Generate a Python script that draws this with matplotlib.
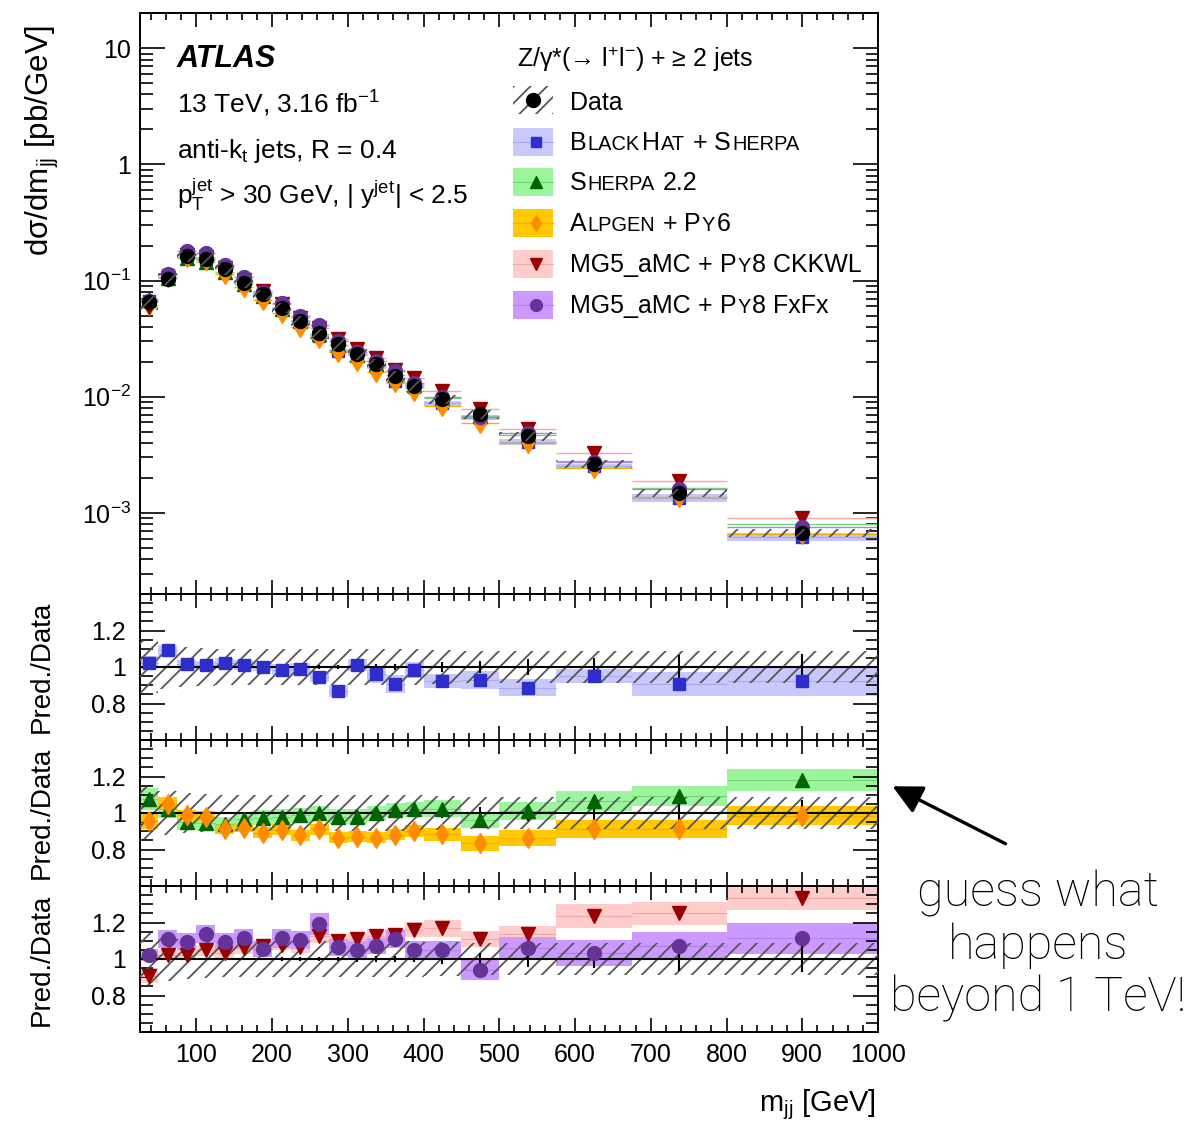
import matplotlib
matplotlib.use("Agg")
import matplotlib.pyplot as plt
import numpy as np
from matplotlib.lines import Line2D
from matplotlib.patches import Rectangle, FancyArrowPatch
from matplotlib.ticker import FixedLocator, MultipleLocator, LogLocator, NullFormatter, FuncFormatter

plt.rcParams["font.family"] = ["Liberation Sans", "DejaVu Sans"]
plt.rcParams["mathtext.fontset"] = "custom"
plt.rcParams["mathtext.rm"] = "Liberation Sans"
plt.rcParams["mathtext.it"] = "Liberation Sans:italic"
plt.rcParams["mathtext.bf"] = "Liberation Sans:bold"
plt.rcParams["hatch.linewidth"] = 1.3
plt.rcParams["axes.linewidth"] = 1.4

# m_jj binning [GeV]
bin_edges = np.array([25, 50, 75, 100, 125, 150, 175, 200, 225, 250, 275, 300, 325,
                      350, 375, 400, 450, 500, 575, 675, 800, 1000])

# measured cross section [pb/GeV] and relative uncertainties
data_xsec = [0.065, 0.103, 0.163, 0.153, 0.125, 0.096, 0.076, 0.058, 0.045, 0.035, 0.0283,
             0.0232, 0.019, 0.0151, 0.0124, 0.0095, 0.0071, 0.0046, 0.00264, 0.00149, 0.000673]
data_syst = [0.14, 0.12, 0.11, 0.105, 0.10, 0.10, 0.10, 0.10, 0.10, 0.10, 0.10,
             0.10, 0.10, 0.10, 0.10, 0.095, 0.09, 0.09, 0.085, 0.085, 0.085]
data_stat = [0.006, 0.005, 0.005, 0.005, 0.006, 0.007, 0.008, 0.009, 0.010, 0.011, 0.012,
             0.014, 0.015, 0.017, 0.019, 0.025, 0.035, 0.045, 0.05, 0.065, 0.07]

# predictions / data, with half-width of the theory band
blackhat_ratio = [1.024, 1.093, 1.015, 1.009, 1.024, 1.011, 1.002, 0.984, 0.991, 0.947, 0.868,
                  1.011, 0.960, 0.905, 0.984, 0.923, 0.929, 0.887, 0.951, 0.905, 0.923]
blackhat_err = [0.035, 0.03, 0.025, 0.025, 0.025, 0.025, 0.025, 0.03, 0.03, 0.03, 0.035,
                0.035, 0.045, 0.05, 0.045, 0.04, 0.05, 0.045, 0.04, 0.065, 0.08]
sherpa_ratio = [1.075, 1.020, 0.950, 0.945, 0.940, 0.965, 0.975, 0.980, 0.987, 0.998, 0.980,
                0.980, 0.998, 1.016, 1.020, 1.024, 0.962, 1.011, 1.066, 1.093, 1.180]
sherpa_err = [0.06, 0.045, 0.045, 0.045, 0.04, 0.04, 0.04, 0.04, 0.04, 0.04, 0.04,
              0.04, 0.04, 0.04, 0.04, 0.045, 0.045, 0.048, 0.055, 0.055, 0.06]
alpgen_ratio = [0.955, 1.050, 0.987, 0.980, 0.911, 0.920, 0.892, 0.907, 0.878, 0.910, 0.865,
                0.870, 0.865, 0.880, 0.901, 0.883, 0.834, 0.865, 0.914, 0.914, 0.984]
alpgen_err = [0.04, 0.035, 0.03, 0.03, 0.025, 0.025, 0.03, 0.03, 0.03, 0.03, 0.03,
              0.03, 0.03, 0.03, 0.035, 0.035, 0.04, 0.044, 0.05, 0.05, 0.052]
ckkwl_ratio = [0.909, 1.022, 1.022, 1.049, 1.033, 1.060, 1.073, 1.077, 1.064, 1.124, 1.100,
               1.110, 1.128, 1.131, 1.161, 1.168, 1.110, 1.137, 1.235, 1.250, 1.335]
ckkwl_err = [0.04, 0.03, 0.03, 0.03, 0.03, 0.03, 0.03, 0.03, 0.03, 0.035, 0.035,
             0.035, 0.035, 0.035, 0.04, 0.045, 0.045, 0.043, 0.064, 0.062, 0.064]
fxfx_ratio = [1.022, 1.110, 1.095, 1.137, 1.095, 1.113, 1.055, 1.113, 1.106, 1.192, 1.064,
              1.051, 1.070, 1.110, 1.051, 1.051, 0.941, 1.059, 1.033, 1.073, 1.113]
fxfx_err = [0.035, 0.05, 0.045, 0.05, 0.045, 0.05, 0.045, 0.05, 0.05, 0.06, 0.045,
            0.045, 0.045, 0.05, 0.05, 0.05, 0.055, 0.06, 0.07, 0.073, 0.087]

ratio_ticks = [0.8, 1.0, 1.2]
main_ticks = [1e-3, 1e-2, 1e-1, 1, 10]

# name pieces (text, scale) give the small-caps generator names
predictions = [
    dict(label=[("B", 1), ("LACK", 0.8), (None, 0.05), ("H", 1), ("AT", 0.8), (None, 0.25), ("+", 1),
                (None, 0.25), ("S", 1), ("HERPA", 0.8)],
         ratio=blackhat_ratio, err=blackhat_err, marker="s", ms=8.5,
         color="#2e2ecc", band="#c8c8fb", line="#a8a8f0", panel=1),
    dict(label=[("S", 1), ("HERPA", 0.8), (None, 0.28), ("2.2", 1)],
         ratio=sherpa_ratio, err=sherpa_err, marker="^", ms=10.5,
         color="#006400", band="#9cf59c", line="#70d870", panel=2),
    dict(label=[("A", 1), ("LPGEN", 0.8), (None, 0.25), ("+", 1), (None, 0.25), ("P", 1), ("Y", 0.8), ("6", 1)],
         ratio=alpgen_ratio, err=alpgen_err, marker="d", ms=10,
         color="#ff8c00", band="#ffc800", line="#f0b000", panel=2),
    dict(label=[("MG5_aMC", 1), (None, 0.25), ("+", 1), (None, 0.25), ("P", 1), ("Y", 0.8),
                ("8 CKKWL", 1)],
         ratio=ckkwl_ratio, err=ckkwl_err, marker="v", ms=10.5,
         color="#990000", band="#ffcccc", line="#f0a8a8", panel=3),
    dict(label=[("MG5_aMC", 1), (None, 0.25), ("+", 1), (None, 0.25), ("P", 1), ("Y", 0.8),
                ("8 FxFx", 1)],
         ratio=fxfx_ratio, err=fxfx_err, marker="o", ms=10,
         color="#663399", band="#cc99ff", line="#b080f0", panel=3),
]

centers = 0.5 * (bin_edges[:-1] + bin_edges[1:])
widths = np.diff(bin_edges)
lo_edges, hi_edges = bin_edges[:-1], bin_edges[1:]
data = np.array(data_xsec)
syst = np.array(data_syst)

W, H = 1195, 1127
fig = plt.figure(figsize=(W / 100, H / 100), dpi=100)
left, right = 139.5, 878.0


def axes_box(top, bottom):
    return [left / W, 1 - bottom / H, (right - left) / W, (bottom - top) / H]


def fig_xy(x, y):
    return x / W, 1 - y / H


ax_main = fig.add_axes(axes_box(13.3, 594))
ratio_axes = [fig.add_axes(axes_box(594, 740)),
              fig.add_axes(axes_box(740, 886)),
              fig.add_axes(axes_box(886, 1032))]

# main panel: prediction lines and the BlackHat band, then markers and data
for pred in predictions:
    ratio = np.array(pred["ratio"])
    err = np.array(pred["err"])
    if pred["panel"] == 1:
        ax_main.bar(centers, data * 2 * err, bottom=data * (ratio - err), width=widths,
                    color=pred["band"], lw=0, zorder=1)
    ax_main.hlines(data * ratio, lo_edges, hi_edges, colors=pred["line"], lw=1, zorder=2)
for pred in predictions:
    ax_main.plot(centers, data * np.array(pred["ratio"]), ls="none", marker=pred["marker"],
                 ms=pred["ms"], color=pred["color"], mec=pred["color"], zorder=4)
ax_main.plot(centers, data, ls="none", marker="o", ms=10, color="black", zorder=5)
ax_main.bar(centers, data * 2 * syst, bottom=data * (1 - syst), width=widths,
            facecolor="none", edgecolor="#555555", lw=0, hatch="//", zorder=6)

ax_main.set_yscale("log")
ax_main.set_ylim(2e-4, 20)
ax_main.yaxis.set_major_locator(FixedLocator(main_ticks))
ax_main.yaxis.set_minor_locator(LogLocator(base=10, subs=np.arange(2, 10), numticks=20))
ax_main.yaxis.set_minor_formatter(NullFormatter())


def log_label(v, pos):
    exp = int(round(np.log10(v)))
    if exp == 0:
        return "1"
    if exp == 1:
        return "10"
    return r"$10^{%d}$" % exp


ax_main.yaxis.set_major_formatter(FuncFormatter(log_label))

# ratio panels
for idx, ax in enumerate(ratio_axes, start=1):
    for pred in predictions:
        if pred["panel"] != idx:
            continue
        ratio = np.array(pred["ratio"])
        err = np.array(pred["err"])
        ax.bar(centers, 2 * err, bottom=ratio - err, width=widths, color=pred["band"], lw=0, zorder=1)
        ax.hlines(ratio, lo_edges, hi_edges, colors=pred["line"], lw=0.8, zorder=2)
    ax.bar(centers, 2 * syst, bottom=1 - syst, width=widths, facecolor="none",
           edgecolor="#555555", lw=0, hatch="//", zorder=3)
    ax.axhline(1.0, color="black", lw=1.5, zorder=4)
    ax.errorbar(centers, np.ones_like(centers), yerr=data_stat, fmt="none", ecolor="black",
                elinewidth=1.5, capsize=0, zorder=4)
    for pred in predictions:
        if pred["panel"] != idx:
            continue
        ax.plot(centers, pred["ratio"], ls="none", marker=pred["marker"], ms=pred["ms"],
                color=pred["color"], mec=pred["color"], zorder=5)
    ax.set_ylim(0.6, 1.4)
    ax.yaxis.set_major_locator(FixedLocator(ratio_ticks))
    ax.yaxis.set_minor_locator(MultipleLocator(0.05))
    ax.yaxis.set_major_formatter(FuncFormatter(lambda v, p: "1" if abs(v - 1) < 1e-6 else f"{v:.1f}"))
    ax.tick_params(axis="y", which="major", labelsize=18, pad=10)

for ax in [ax_main] + ratio_axes:
    ax.set_xlim(25, 1000)
    ax.xaxis.set_major_locator(MultipleLocator(100))
    ax.xaxis.set_minor_locator(MultipleLocator(20))
    ax.tick_params(axis="both", which="both", direction="in", top=True, right=True, width=1.2)
    ax.tick_params(axis="x", which="major", length=10)
    ax.tick_params(axis="x", which="minor", length=5)
    ax.tick_params(axis="y", which="major", length=18)
    ax.tick_params(axis="y", which="minor", length=9)
    if ax is not ratio_axes[-1]:
        ax.tick_params(axis="x", labelbottom=False)

ax_main.tick_params(axis="y", which="major", labelsize=18, pad=6)
ratio_axes[-1].tick_params(axis="x", which="major", labelsize=18, pad=8)

# axis titles
fig.text(*fig_xy(42, 140), "dσ/dm$_{\\mathrm{jj}}$ [pb/GeV]", rotation=90,
         ha="center", va="center", fontsize=22.5)
for yc in [667, 813, 960]:
    fig.text(*fig_xy(42, yc), "Pred./Data", rotation=90, ha="center", va="center", fontsize=20)
fig.text(*fig_xy(876, 1105), r"m$_{\mathrm{jj}}$ [GeV]", ha="right", va="center", fontsize=21)

# labels inside the main panel
fig.text(*fig_xy(177, 67), "ATLAS", fontsize=22, fontweight="bold", fontstyle="italic",
         va="baseline")
fig.text(*fig_xy(177, 113), r"13 TeV, 3.16 fb$^{-1}$", fontsize=19, va="baseline")
fig.text(*fig_xy(177, 158), r"anti-k$_{\mathrm{t}}$ jets, R = 0.4", fontsize=19, va="baseline")
fig.text(*fig_xy(177, 204), r"p$_{\mathrm{T}}^{\mathrm{jet}}$ > 30 GeV, | y$^{\mathrm{jet}}$| < 2.5",
         fontsize=19, va="baseline")

# legend
renderer = fig.canvas.get_renderer()


def small_caps(x, y, pieces, size):
    for text, scale in pieces:
        if text is None:
            x += scale * size * fig.dpi / 72
            continue
        t = fig.text(*fig_xy(x, y), text, fontsize=size * scale, ha="left", va="baseline")
        x += t.get_window_extent(renderer).width + 1


fig.text(*fig_xy(517, 66.7), "Z/γ*(→ l$^{+}$l$^{-}$) + ≥ 2 jets", fontsize=18, va="baseline")

box_x0, box_x1, box_h = 512.7, 553.3, 28
fig.add_artist(Rectangle(fig_xy(box_x0, 100 + box_h / 2), (box_x1 - box_x0) / W, box_h / H,
                         transform=fig.transFigure, facecolor="none", edgecolor="#555555",
                         lw=0, hatch="//"))
fig.add_artist(Line2D([fig_xy(533, 100)[0]], [fig_xy(533, 100)[1]], marker="o", ms=10,
                      color="black", transform=fig.transFigure))
small_caps(570, 110, [("Data", 1)], 18)

row_y = [141.7, 182, 223, 264, 305]
for pred, yc in zip(predictions, row_y):
    fig.add_artist(Rectangle(fig_xy(box_x0, yc + box_h / 2), (box_x1 - box_x0) / W, box_h / H,
                             transform=fig.transFigure, facecolor=pred["band"], lw=0))
    x0, y0 = fig_xy(box_x0, yc)
    x1, _ = fig_xy(box_x1, yc)
    fig.add_artist(Line2D([x0, x1], [y0, y0], color=pred["line"], lw=0.8, transform=fig.transFigure))
    xm, ym = fig_xy(535.5, yc)
    fig.add_artist(Line2D([xm], [ym], marker=pred["marker"], ms=pred["ms"] * 0.85,
                          color=pred["color"], mec=pred["color"], transform=fig.transFigure))
    small_caps(570, yc + 8, pred["label"], 18)

# note on the right
fig.text(*fig_xy(1038, 946), "guess what\nhappens\nbeyond 1 TeV!", ha="center", va="center",
         fontsize=35, fontweight="light", family=["Roboto", "Liberation Sans"],
         linespacing=1.17, color="black")
fig.add_artist(FancyArrowPatch(fig_xy(1008, 845), fig_xy(890, 785), transform=fig.transFigure,
                               arrowstyle="-|>,head_length=0.6,head_width=0.3", mutation_scale=30,
                               lw=2.4, color="black"))

fig.savefig("out.png", dpi=100)
